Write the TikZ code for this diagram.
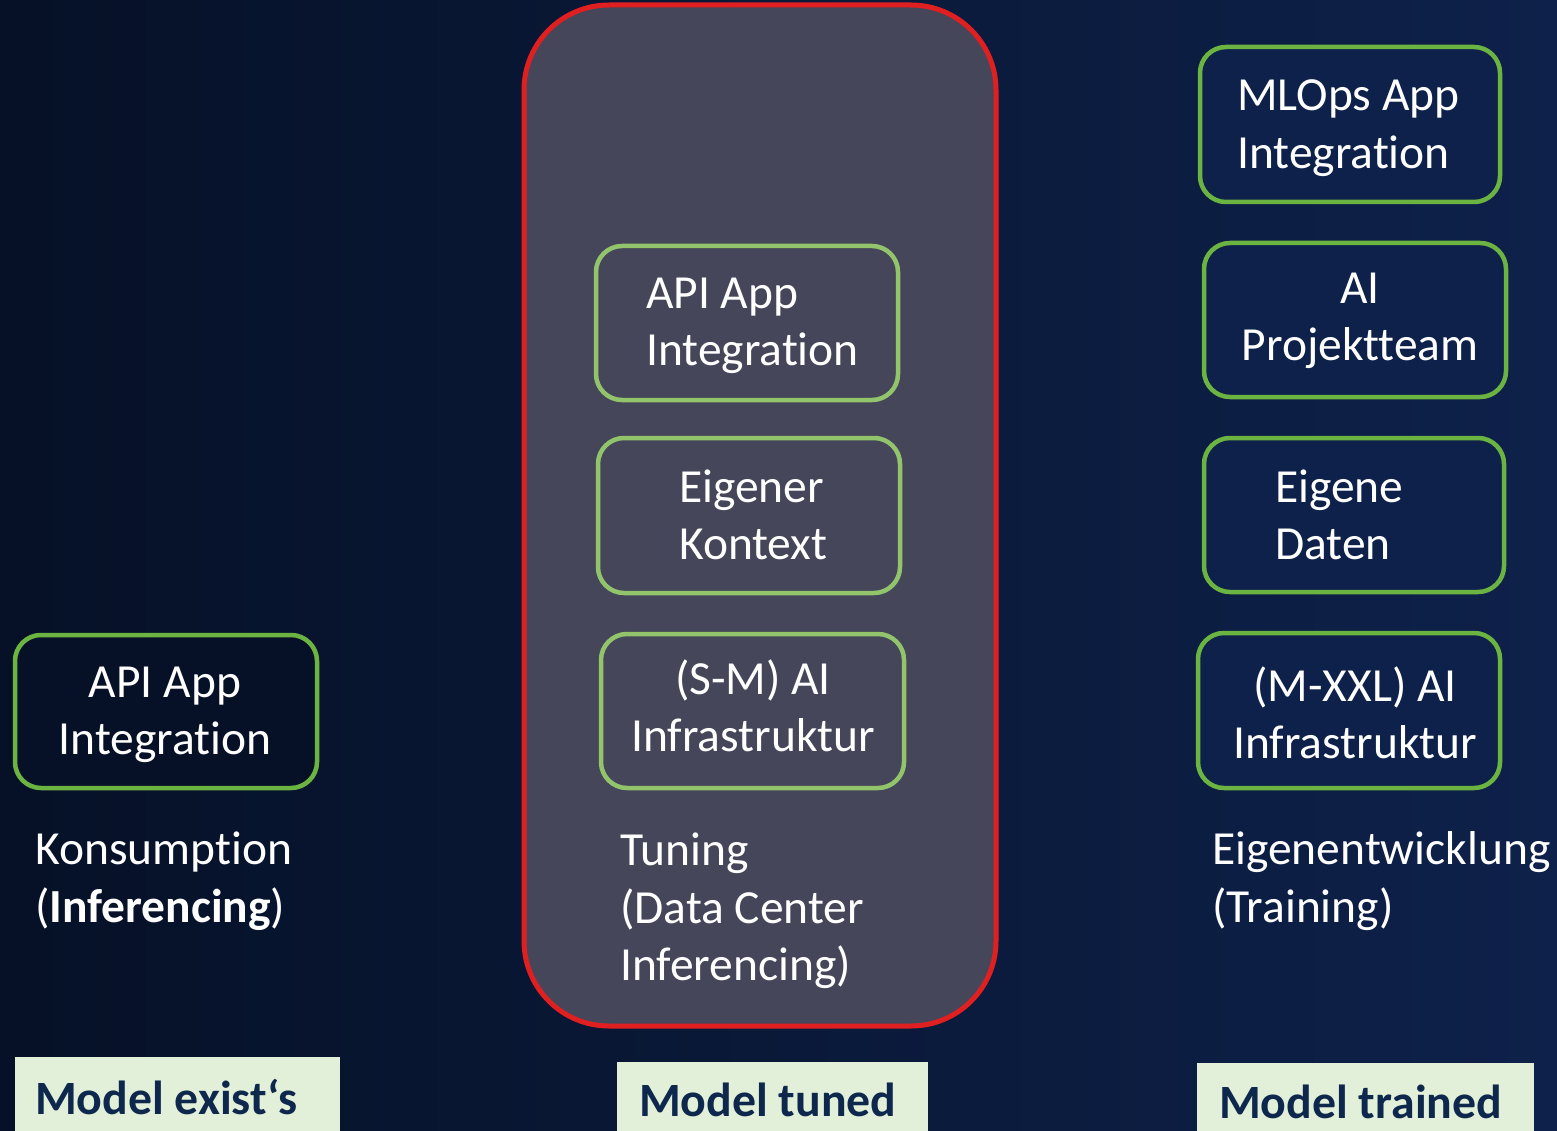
\documentclass[tikz,border=0pt]{standalone}
\usepackage{fontspec}
\setmainfont[Ligatures={NoCommon}]{Carlito}
\definecolor{bgleft}{RGB}{6,17,39}
\definecolor{bgright}{RGB}{14,33,74}
\definecolor{panelgray}{RGB}{69,70,89}
\definecolor{panelred}{RGB}{224,32,32}
\definecolor{boxgreen}{RGB}{108,180,66}
\definecolor{boxgreenlight}{RGB}{146,196,108}
\definecolor{labelfill}{RGB}{226,240,217}
\definecolor{labeltext}{RGB}{14,40,77}
\begin{document}
\begin{tikzpicture}[x=1pt,y=-1pt,
  gbox/.style={draw=boxgreen, line width=4.5pt, rounded corners=26pt, anchor=center, inner sep=0pt},
  mbox/.style={draw=boxgreenlight, line width=4.5pt, rounded corners=26pt, anchor=center, inner sep=0pt},
  txt/.style={text=white, font=\fontsize{47.5}{57.5}\selectfont, inner sep=0pt},
  lbl/.style={fill=labelfill, anchor=north west, inner sep=0pt},
  lbltxt/.style={text=labeltext, font=\fontsize{47.8}{55}\selectfont\bfseries, inner sep=0pt, anchor=west}
]
\useasboundingbox (0,0) rectangle (1557,1131);
\shade[left color=bgleft, right color=bgright] (0,0) rectangle (1557,1131);

% central tuned panel
\node[draw=panelred, line width=5pt, fill=panelgray, rounded corners=85pt,
      minimum width=472pt, minimum height=1021pt, inner sep=0pt] (panel) at (760,515.5) {};

% left column
\node[gbox, fill=bgleft, minimum width=302pt, minimum height=153pt] (lbox) at (166,711.5) {};
\node[txt, align=center] (ltext) at (165,715) {API App\\Integration};
\node[txt, align=left, anchor=west] (lcap) at (35,881) {Konsumption\\(\textbf{Inferencing})};

% middle column
\node[mbox, minimum width=302pt, minimum height=154pt] (m1) at (747,323) {};
\node[txt, align=left, anchor=west] (m1t) at (646,326) {API App\\Integration};
\node[mbox, minimum width=302pt, minimum height=155pt] (m2) at (749,515.5) {};
\node[txt, align=left, anchor=west] (m2t) at (679,515) {Eigener\\Kontext};
\node[mbox, minimum width=303pt, minimum height=154pt] (m3) at (752.5,711) {};
\node[txt, align=center] (m3t) at (753,706) {(S-M) AI\\Infrastruktur};
\node[txt, align=left, anchor=west] (mcap) at (620,911) {Tuning\\(Data Center\\Inferencing)};

% right column
\node[gbox, fill=bgright, minimum width=300pt, minimum height=155pt] (r1) at (1350,124.5) {};
\node[txt, align=left, anchor=west] (r1t) at (1237,128) {MLOps App\\Integration};
\node[gbox, fill=bgright, minimum width=302pt, minimum height=154pt] (r2) at (1355,320) {};
\node[txt, align=center] (r2t) at (1360,321) {AI\\Projektteam};
\node[gbox, fill=bgright, minimum width=300pt, minimum height=154pt] (r3) at (1354,515) {};
\node[txt, align=left, anchor=west] (r3t) at (1275,515) {Eigene\\Daten};
\node[gbox, fill=bgright, minimum width=302pt, minimum height=155pt] (r4) at (1349,710.5) {};
\node[txt, align=center] (r4t) at (1355,713) {(M-XXL) AI\\Infrastruktur};
\node[txt, align=left, anchor=west] (rcap) at (1212,881) {Eigenentwicklung\\(Training)};

% bottom labels
\node[lbl, minimum width=325pt, minimum height=90pt] (l1) at (15,1057) {};
\node[lbltxt] (l1t) at (35,1097) {Model exist‘s};
\node[lbl, minimum width=311pt, minimum height=85pt] (l2) at (617,1062) {};
\node[lbltxt] (l2t) at (639,1100) {Model tuned};
\node[lbl, minimum width=337pt, minimum height=85pt] (l3) at (1197,1063) {};
\node[lbltxt] (l3t) at (1219,1102) {Model trained};
\end{tikzpicture}
\end{document}
